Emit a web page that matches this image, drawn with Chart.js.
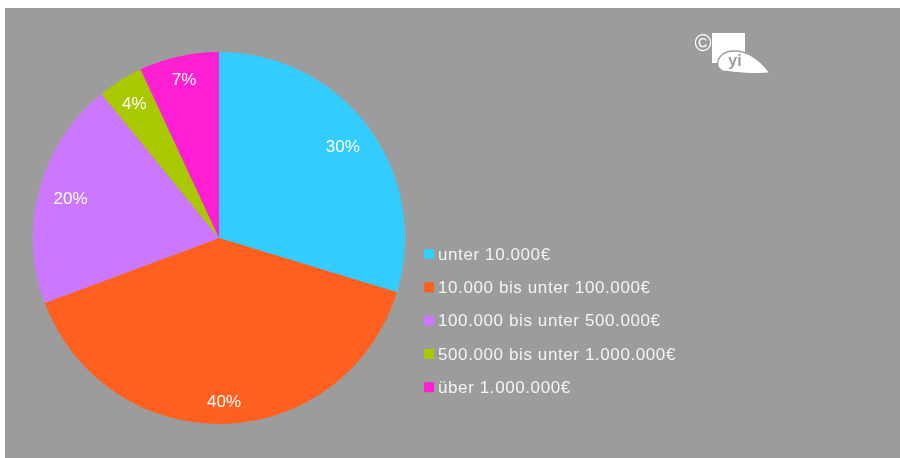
<!DOCTYPE html>
<html>
<head>
<meta charset="utf-8">
<title>Umsatzklassen</title>
<script src="https://cdn.jsdelivr.net/npm/chart.js@4.4.0/dist/chart.umd.min.js"></script>
<style>
html, body { margin: 0; padding: 0; background: #fff; overflow: hidden; }
#wrap { position: relative; width: 900px; height: 458px; }
</style>
</head>
<body>
<div id="wrap"><canvas id="chart1"></canvas></div>
<script>
var categories = [
    'unter 10.000€',
    '10.000 bis unter 100.000€',
    '100.000 bis unter 500.000€',
    '500.000 bis unter 1.000.000€',
    'über 1.000.000€'
];
var shares = [30, 40, 20, 4, 7];
var colors = ['#33ccff', '#ff5f1f', '#cc77ff', '#aac800', '#ff1fd2'];

var panelColor = '#9c9c9c';
var fontName = '"Liberation Sans", Arial, sans-serif';

// grey panel behind everything
var panelPlugin = {
    id: 'panel',
    beforeDraw: function(chart) {
        var ctx = chart.ctx;
        ctx.save();
        ctx.fillStyle = '#ffffff';
        ctx.fillRect(0, 0, chart.width, chart.height);
        ctx.fillStyle = panelColor;
        ctx.fillRect(5, 8, chart.width - 5, chart.height - 8);
        ctx.restore();
    }
};

// percentage labels inside the slices, pushed towards the rim
var sliceLabels = {
    id: 'sliceLabels',
    afterDatasetsDraw: function(chart) {
        var ctx = chart.ctx;
        var meta = chart.getDatasetMeta(0);
        ctx.save();
        ctx.font = '17px ' + fontName;
        ctx.fillStyle = '#ffffff';
        ctx.textAlign = 'center';
        ctx.textBaseline = 'middle';
        meta.data.forEach(function(arc, i) {
            var p = arc.getProps(['x', 'y', 'startAngle', 'endAngle', 'outerRadius'], true);
            var mid = (p.startAngle + p.endAngle) / 2;
            var ux = Math.cos(mid);
            var uy = Math.sin(mid);
            var text = shares[i] + '%';
            var hw = ctx.measureText(text).width / 2;
            var hh = 7;
            var target = p.outerRadius - 14;
            // find distance where the outer corner of the text box touches target radius
            var sx = ux >= 0 ? hw : -hw;
            var sy = uy >= 0 ? hh : -hh;
            var b = ux * sx + uy * sy;
            var c = sx * sx + sy * sy - target * target;
            var d = -b + Math.sqrt(b * b - c);
            ctx.fillText(text, p.x + ux * d, p.y + uy * d + 1);
        });
        ctx.restore();
    }
};

// legend list and small logo on the right
var sideItems = {
    id: 'sideItems',
    afterDraw: function(chart) {
        var ctx = chart.ctx;
        ctx.save();
        ctx.font = '17px ' + fontName;
        ctx.letterSpacing = '0.6px';
        ctx.textBaseline = 'middle';
        ctx.textAlign = 'left';
        categories.forEach(function(name, i) {
            var y = 255 + i * 33.3;
            ctx.fillStyle = colors[i];
            ctx.fillRect(424, y - 6, 10, 10);
            ctx.fillStyle = '#f4f4f4';
            ctx.fillText(name, 438, y);
        });
        ctx.letterSpacing = '0px';

        ctx.fillStyle = '#ffffff';
        ctx.textAlign = 'center';
        ctx.textBaseline = 'alphabetic';
        ctx.font = '23px ' + fontName;
        ctx.fillText('©', 703, 51);
        ctx.fillRect(712, 33, 33, 30);
        ctx.beginPath();
        ctx.moveTo(718, 67);
        ctx.bezierCurveTo(716, 57, 724, 51, 734, 51);
        ctx.bezierCurveTo(750, 51, 762, 62, 770, 73);
        ctx.bezierCurveTo(758, 75, 735, 73, 722, 71);
        ctx.closePath();
        ctx.fill();
        ctx.strokeStyle = panelColor;
        ctx.lineWidth = 1.5;
        ctx.stroke();
        ctx.fillStyle = panelColor;
        ctx.font = 'bold 16px ' + fontName;
        ctx.fillText('yi', 735, 66);
        ctx.restore();
    }
};

var ctx = document.getElementById('chart1').getContext('2d');
var myChart = new Chart(ctx, {
    type: 'pie',
    data: {
        labels: categories,
        datasets: [{
            data: shares,
            backgroundColor: colors,
            borderWidth: 0,
            hoverOffset: 0
        }]
    },
    options: {
        responsive: true,
        maintainAspectRatio: false,
        animation: false,
        layout: {
            padding: { left: 33, top: 52, right: 495, bottom: 34 }
        },
        plugins: {
            legend: { display: false },
            tooltip: { enabled: false }
        }
    },
    plugins: [panelPlugin, sliceLabels, sideItems]
});
</script>
</body>
</html>
